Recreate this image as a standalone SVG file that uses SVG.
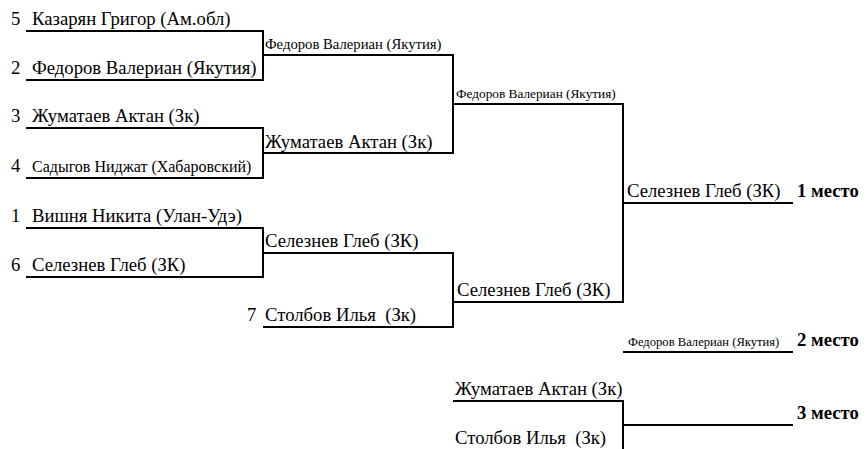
<svg xmlns="http://www.w3.org/2000/svg" width="868" height="449" viewBox="0 0 868 449">
<rect width="868" height="449" fill="#fff"/>
<g id="connectors" fill="none" stroke="#000" stroke-width="2">
<path d="M26 31H263V80H26M263 55H453V153H263"/>
<path d="M26 128H263V178H26"/>
<path d="M26 228H263V277H26M263 253H453V327H263"/>
<path d="M453 104H623V302H453M623 203H793"/>
<path d="M623 352H793"/>
<path d="M453 401H623V449M623 425H793"/>
</g>
<g id="r1-1"><text style="font-family:'Liberation Serif',serif !important;font-size:18.7px" x="11" y="25">5</text><text style="font-family:'Liberation Serif',serif !important;font-size:18.7px" x="32" y="25">Казарян Григор (Ам.обл)</text></g>
<g id="r1-2"><text style="font-family:'Liberation Serif',serif !important;font-size:18.7px" x="11" y="74">2</text><text style="font-family:'Liberation Serif',serif !important;font-size:18.7px" x="32" y="74">Федоров Валериан (Якутия)</text></g>
<g id="r1-3"><text style="font-family:'Liberation Serif',serif !important;font-size:18.7px" x="11" y="122">3</text><text style="font-family:'Liberation Serif',serif !important;font-size:18.7px" x="32" y="122">Жуматаев Актан (Зк)</text></g>
<g id="r1-4"><text style="font-family:'Liberation Serif',serif !important;font-size:18.7px" x="11" y="172">4</text><text style="font-family:'Liberation Serif',serif !important;font-size:16px" x="32" y="172">Садыгов Ниджат (Хабаровский)</text></g>
<g id="r1-5"><text style="font-family:'Liberation Serif',serif !important;font-size:18.7px" x="11" y="222">1</text><text style="font-family:'Liberation Serif',serif !important;font-size:18.7px" x="32" y="222">Вишня Никита (Улан-Удэ)</text></g>
<g id="r1-6"><text style="font-family:'Liberation Serif',serif !important;font-size:18.7px" x="11" y="271">6</text><text style="font-family:'Liberation Serif',serif !important;font-size:18.7px" x="32" y="271">Селезнев Глеб (ЗК)</text></g>
<g id="r2-1"><text style="font-family:'Liberation Serif',serif !important;font-size:14.7px" x="265" y="49">Федоров Валериан (Якутия)</text></g>
<g id="r2-2"><text style="font-family:'Liberation Serif',serif !important;font-size:18.7px" x="265" y="148">Жуматаев Актан (Зк)</text></g>
<g id="r2-3"><text style="font-family:'Liberation Serif',serif !important;font-size:18.7px" x="265" y="247">Селезнев Глеб (ЗК)</text></g>
<g id="r2-4"><text style="font-family:'Liberation Serif',serif !important;font-size:18.7px" x="247" y="321">7</text><text style="font-family:'Liberation Serif',serif !important;font-size:18.7px;white-space:pre" x="265" y="321" xml:space="preserve">Столбов Илья  (Зк)</text></g>
<g id="r3-1"><text style="font-family:'Liberation Serif',serif !important;font-size:13.3px" x="456" y="98">Федоров Валериан (Якутия)</text></g>
<g id="r3-2"><text style="font-family:'Liberation Serif',serif !important;font-size:18.7px" x="457" y="296">Селезнев Глеб (ЗК)</text></g>
<g id="final"><text style="font-family:'Liberation Serif',serif !important;font-size:18.7px" x="627" y="197">Селезнев Глеб (ЗК)</text><text style="font-family:'Liberation Serif',serif !important;font-size:18.7px;font-weight:bold" x="797" y="197">1 место</text></g>
<g id="second"><text style="font-family:'Liberation Serif',serif !important;font-size:12.6px" x="628" y="346">Федоров Валериан (Якутия)</text><text style="font-family:'Liberation Serif',serif !important;font-size:18.7px;font-weight:bold" x="797" y="346">2 место</text></g>
<g id="third-1"><text style="font-family:'Liberation Serif',serif !important;font-size:18.7px" x="455" y="395">Жуматаев Актан (Зк)</text></g>
<g id="third-2"><text style="font-family:'Liberation Serif',serif !important;font-size:18.7px;white-space:pre" x="455" y="444" xml:space="preserve">Столбов Илья  (Зк)</text></g>
<g id="third"><text style="font-family:'Liberation Serif',serif !important;font-size:18.7px;font-weight:bold" x="797" y="419">3 место</text></g>
</svg>
